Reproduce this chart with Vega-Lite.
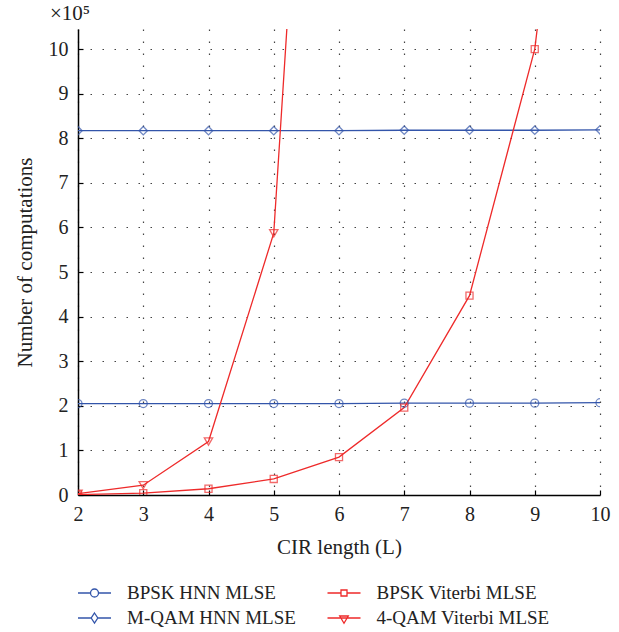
{
  "$schema": "https://vega.github.io/schema/vega-lite/v6.json",
  "width": 522,
  "height": 466,
  "autosize": {"type": "none"},
  "padding": {"left": 78, "top": 29, "right": 19, "bottom": 137},
  "background": "white",
  "title": {
    "text": "×10⁵",
    "anchor": "start",
    "frame": "group",
    "dx": -28,
    "offset": 5,
    "font": "Liberation Serif",
    "fontSize": 21,
    "fontWeight": "normal",
    "color": "#222"
  },
  "config": {
    "view": {"stroke": null},
    "axis": {
      "domainColor": "#000",
      "domainWidth": 1.5,
      "tickColor": "#000",
      "tickSize": -5,
      "tickWidth": 1.2,
      "labelFont": "Liberation Serif",
      "labelFontSize": 20,
      "labelColor": "#222",
      "labelFlush": false,
      "titleFont": "Liberation Serif",
      "titleFontSize": 21,
      "titleFontWeight": "normal",
      "titleColor": "#222",
      "grid": true,
      "gridColor": "#444",
      "gridDash": [1.5, 10.5],
      "gridWidth": 1.2,
      "gridOpacity": 1
    }
  },
  "data": {
    "values": [
      {"L": 2, "series": "BPSK HNN MLSE", "v": 2.05},
      {"L": 3, "series": "BPSK HNN MLSE", "v": 2.05},
      {"L": 4, "series": "BPSK HNN MLSE", "v": 2.05},
      {"L": 5, "series": "BPSK HNN MLSE", "v": 2.05},
      {"L": 6, "series": "BPSK HNN MLSE", "v": 2.05},
      {"L": 7, "series": "BPSK HNN MLSE", "v": 2.06},
      {"L": 8, "series": "BPSK HNN MLSE", "v": 2.06},
      {"L": 9, "series": "BPSK HNN MLSE", "v": 2.06},
      {"L": 10, "series": "BPSK HNN MLSE", "v": 2.07},
      {"L": 2, "series": "M-QAM HNN MLSE", "v": 8.17},
      {"L": 3, "series": "M-QAM HNN MLSE", "v": 8.17},
      {"L": 4, "series": "M-QAM HNN MLSE", "v": 8.17},
      {"L": 5, "series": "M-QAM HNN MLSE", "v": 8.17},
      {"L": 6, "series": "M-QAM HNN MLSE", "v": 8.17},
      {"L": 7, "series": "M-QAM HNN MLSE", "v": 8.18},
      {"L": 8, "series": "M-QAM HNN MLSE", "v": 8.18},
      {"L": 9, "series": "M-QAM HNN MLSE", "v": 8.18},
      {"L": 10, "series": "M-QAM HNN MLSE", "v": 8.19},
      {"L": 2, "series": "BPSK Viterbi MLSE", "v": 0.01},
      {"L": 3, "series": "BPSK Viterbi MLSE", "v": 0.04},
      {"L": 4, "series": "BPSK Viterbi MLSE", "v": 0.14},
      {"L": 5, "series": "BPSK Viterbi MLSE", "v": 0.36},
      {"L": 6, "series": "BPSK Viterbi MLSE", "v": 0.85},
      {"L": 7, "series": "BPSK Viterbi MLSE", "v": 1.96},
      {"L": 8, "series": "BPSK Viterbi MLSE", "v": 4.47},
      {"L": 9, "series": "BPSK Viterbi MLSE", "v": 10.0},
      {"L": 10, "series": "BPSK Viterbi MLSE", "v": 22.0},
      {"L": 2, "series": "4-QAM Viterbi MLSE", "v": 0.03},
      {"L": 3, "series": "4-QAM Viterbi MLSE", "v": 0.22},
      {"L": 4, "series": "4-QAM Viterbi MLSE", "v": 1.2},
      {"L": 5, "series": "4-QAM Viterbi MLSE", "v": 5.87},
      {"L": 6, "series": "4-QAM Viterbi MLSE", "v": 28.7}
    ]
  },
  "encoding": {
    "x": {
      "field": "L",
      "type": "quantitative",
      "scale": {"domain": [2, 10], "nice": false, "zero": false},
      "axis": {"values": [2, 3, 4, 5, 6, 7, 8, 9, 10], "title": "CIR length (L)", "labelPadding": 14, "titlePadding": 12}
    },
    "y": {
      "field": "v",
      "type": "quantitative",
      "scale": {"domain": [0, 10.45], "nice": false},
      "axis": {"values": [0, 1, 2, 3, 4, 5, 6, 7, 8, 9, 10], "title": "Number of computations", "labelPadding": 15, "titlePadding": 13}
    },
    "color": {
      "field": "series",
      "type": "nominal",
      "scale": {
        "domain": ["BPSK HNN MLSE", "M-QAM HNN MLSE", "BPSK Viterbi MLSE", "4-QAM Viterbi MLSE"],
        "range": ["#3355aa", "#3355aa", "#ee2a2a", "#ee2a2a"]
      },
      "legend": null
    }
  },
  "layer": [
    {
      "mark": {"type": "line", "clip": true, "strokeWidth": 1.3},
      "encoding": {
        "color": {
          "field": "series",
          "type": "nominal",
          "legend": {
            "title": null,
            "orient": "none",
            "legendX": 5.5,
            "legendY": 553,
            "columns": 2,
            "columnPadding": 27.5,
            "rowPadding": 4,
            "labelFont": "Liberation Serif",
            "labelFontSize": 19,
            "labelColor": "#222",
            "labelOffset": 21.5,
            "labelLimit": 400,
            "symbolSize": 400,
            "symbolStrokeWidth": 1.3,
            "symbolFillColor": "transparent",
            "encode": {
              "symbols": {
                "update": {
                  "shape": {"signal": "datum.value === 'BPSK HNN MLSE' ? 'M-1.65,0H-0.4M0.4,0H1.65M-0.4,0A0.4,0.4 0 1,0 0.4,0A0.4,0.4 0 1,0 -0.4,0' : datum.value === 'M-QAM HNN MLSE' ? 'M-1.65,0H-0.33M0.33,0H1.65M0,-0.5L0.33,0L0,0.5L-0.33,0Z' : datum.value === 'BPSK Viterbi MLSE' ? 'M-1.65,0H-0.3M0.3,0H1.65M-0.3,-0.3H0.3V0.3H-0.3Z' : 'M-1.65,0H1.65M-0.43,-0.2H0.43L0,0.53Z'"},
                  "fill": {"value": "transparent"}
                }
              }
            }
          }
        }
      }
    },
    {
      "transform": [{"filter": "datum.series === 'BPSK HNN MLSE'"}],
      "mark": {"type": "point", "clip": true, "filled": false, "strokeWidth": 1.3, "shape": "circle", "size": 64}
    },
    {
      "transform": [{"filter": "datum.series === 'M-QAM HNN MLSE'"}],
      "mark": {"type": "point", "clip": true, "filled": false, "strokeWidth": 1.3, "shape": "diamond", "size": 70}
    },
    {
      "transform": [{"filter": "datum.series === 'BPSK Viterbi MLSE'"}],
      "mark": {"type": "point", "clip": true, "filled": false, "strokeWidth": 1.3, "shape": "square", "size": 50}
    },
    {
      "transform": [{"filter": "datum.series === '4-QAM Viterbi MLSE'"}],
      "mark": {"type": "point", "clip": true, "filled": false, "strokeWidth": 1.3, "shape": "triangle-down", "size": 70}
    }
  ]
}
